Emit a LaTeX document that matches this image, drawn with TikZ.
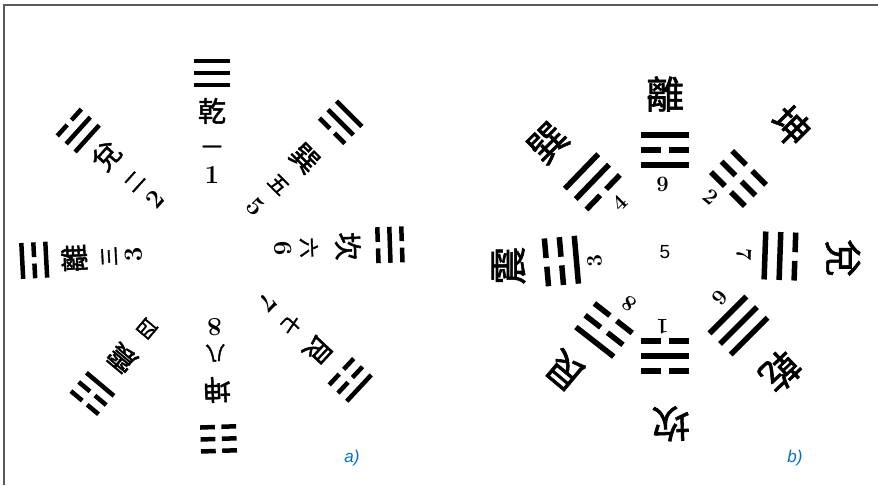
\documentclass[tikz,border=0pt]{standalone}
\usepackage{fontspec}
\setsansfont{Liberation Sans}
\newfontfamily\cjk[FakeBold=1.6]{Noto Sans CJK TC}
\usetikzlibrary{calc}
\definecolor{captionblue}{RGB}{0,112,192}
\definecolor{framegray}{RGB}{90,90,90}
\tikzset{
  hanzi/.style={font=\cjk\fontsize{28}{28}\selectfont,inner sep=0pt},
  bighanzi/.style={font=\cjk\fontsize{38}{38}\selectfont,inner sep=0pt},
  numhanzi/.style={font=\cjk\fontsize{20}{20}\selectfont,inner sep=0pt},
  digit/.style={font=\bfseries\fontsize{26}{26}\selectfont,inner sep=0pt},
  smalldigit/.style={font=\bfseries\fontsize{22}{22}\selectfont,inner sep=0pt},
  centerdigit/.style={font=\sffamily\fontsize{19}{19}\selectfont,inner sep=0pt},
  yao/.style={line width=4pt},
  caption/.style={font=\sffamily\itshape\fontsize{17}{17}\selectfont,text=captionblue,inner sep=0pt}
}
% trigram: centre, angle, radius, length, spacing, width, lines from inside out
\newcommand{\gua}[7]{%
  \begin{scope}[shift={(#1)},shift={(#2:#3)},rotate=#2-90]
    \foreach \bit [count=\k from -1] in {#7} {
      \ifnum\bit=1
        \draw[yao,line width=#6] (-#4/2,\k*#5) -- (#4/2,\k*#5);
      \else
        \draw[yao,line width=#6] (-#4/2,\k*#5) -- (-#4*0.09,\k*#5)
          (#4*0.09,\k*#5) -- (#4/2,\k*#5);
      \fi
    }
  \end{scope}}

\begin{document}
\begin{tikzpicture}[x=1pt,y=1pt]
  \useasboundingbox (0,0) rectangle (878,485);
  \draw[framegray,line width=1.5pt] (4,0) -- (4,480) -- (878,480);
  \coordinate (ca) at (212,234);
  \coordinate (cb) at (665,233);

  % a)
  \gua{ca}{90}{178}{36}{12}{4.5pt}{1,1,1}
  \node[hanzi] (aqian) at ($(ca)+(90:140)$) {乾};
  \node[numhanzi] (aone) at ($(ca)+(90:101)$) {一};
  \node[digit] (aonenum) at ($(ca)+(90:76)$) {1};
  \gua{ca}{138}{180}{36}{12}{4.5pt}{1,1,0}
  \node[hanzi,rotate=48] (adui) at ($(ca)+(138:142)$) {兌};
  \node[numhanzi,rotate=48] (atwo) at ($(ca)+(138:104)$) {二};
  \node[digit,rotate=48] (atwonum) at ($(ca)+(138:77)$) {2};
  \gua{ca}{183}{178}{36}{12}{4.5pt}{1,0,1}
  \node[hanzi,rotate=93] (ali) at ($(ca)+(183:138)$) {離};
  \node[numhanzi,rotate=93] (athree) at ($(ca)+(183:103)$) {三};
  \node[digit,rotate=93] (athreenum) at ($(ca)+(183:78)$) {3};
  \gua{ca}{-130}{186}{36}{12}{4.5pt}{1,0,0}
  \node[hanzi,rotate=-220] (azhen) at ($(ca)+(-130:140)$) {震};
  \node[numhanzi,rotate=-220] (afour) at ($(ca)+(-130:101)$) {四};
  \gua{ca}{45}{182}{36}{12}{4.5pt}{0,1,1}
  \node[hanzi,rotate=-45] (axun) at ($(ca)+(45:131)$) {巽};
  \node[numhanzi,rotate=-45] (afive) at ($(ca)+(45:94)$) {五};
  \node[digit,rotate=-45] (afivenum) at ($(ca)+(45:62)$) {5};
  \gua{ca}{2}{178}{36}{12}{4.5pt}{0,1,0}
  \node[hanzi,rotate=-88] (akan) at ($(ca)+(2:136)$) {坎};
  \node[numhanzi,rotate=-88] (asix) at ($(ca)+(2:97)$) {六};
  \node[digit,rotate=-88] (asixnum) at ($(ca)+(2:71)$) {6};
  \gua{ca}{-43}{189}{36}{12}{4.5pt}{0,0,1}
  \node[hanzi,rotate=-133] (agen) at ($(ca)+(-43:145)$) {艮};
  \node[numhanzi,rotate=-133] (aseven) at ($(ca)+(-43:108)$) {七};
  \node[digit,rotate=-133] (asevennum) at ($(ca)+(-43:76)$) {7};
  \gua{ca}{-88}{188}{36}{12}{4.5pt}{0,0,0}
  \node[hanzi,rotate=-178] (akun) at ($(ca)+(-88:139)$) {坤};
  \node[numhanzi,rotate=-178] (aeight) at ($(ca)+(-88:102)$) {八};
  \node[digit,rotate=-178] (aeightnum) at ($(ca)+(-88:76)$) {8};
  \node[caption] (capa) at (352,27) {a)};

  % b)
  \node[centerdigit] (bfive) at (cb) {5};
  \node[bighanzi] (bli) at ($(cb)+(90:158)$) {離};
  \gua{cb}{90}{102}{48}{15}{5.5pt}{1,0,1}
  \node[smalldigit] (bnine) at ($(cb)+(92:68)$) {9};
  \node[bighanzi,rotate=-45] (bkun) at ($(cb)+(45:178)$) {坤};
  \gua{cb}{45}{104}{48}{15}{5.5pt}{0,0,0}
  \node[smalldigit,rotate=-40] (btwo) at ($(cb)+(50:72)$) {2};
  \node[bighanzi,rotate=-90] (bdui) at ($(cb)+(-2:178)$) {兌};
  \gua{cb}{-2}{115}{48}{15}{5.5pt}{1,1,0}
  \node[smalldigit,rotate=-90] (bseven) at ($(cb)+(-2:79)$) {7};
  \node[bighanzi,rotate=-136] (bqian) at ($(cb)+(-46:166)$) {乾};
  \gua{cb}{-45}{104}{52}{15}{5.5pt}{1,1,1}
  \node[smalldigit,rotate=-130] (bsix) at ($(cb)+(-40:72)$) {6};
  \node[bighanzi,rotate=-178] (bkan) at ($(cb)+(-88:172)$) {坎};
  \gua{cb}{-90}{104}{48}{15}{5.5pt}{0,1,0}
  \node[smalldigit,rotate=-180] (bone) at ($(cb)+(-92:75)$) {1};
  \node[bighanzi,rotate=-220] (bgen) at ($(cb)+(-130:155)$) {艮};
  \gua{cb}{-128}{99}{48}{15}{5.5pt}{0,0,1}
  \node[smalldigit,rotate=-215] (beight) at ($(cb)+(-125:63)$) {8};
  \node[bighanzi,rotate=90] (bzhen) at ($(cb)+(185:157)$) {震};
  \gua{cb}{185}{104}{48}{15}{5.5pt}{1,0,0}
  \node[smalldigit,rotate=95] (bthree) at ($(cb)+(187:71)$) {3};
  \node[bighanzi,rotate=45] (bxun) at ($(cb)+(137:160)$) {巽};
  \gua{cb}{136}{101}{48}{15}{5.5pt}{0,1,1}
  \node[smalldigit,rotate=45] (bfour) at ($(cb)+(133:67)$) {4};
  \node[caption] (capb) at (795,27) {b)};
\end{tikzpicture}
\end{document}
